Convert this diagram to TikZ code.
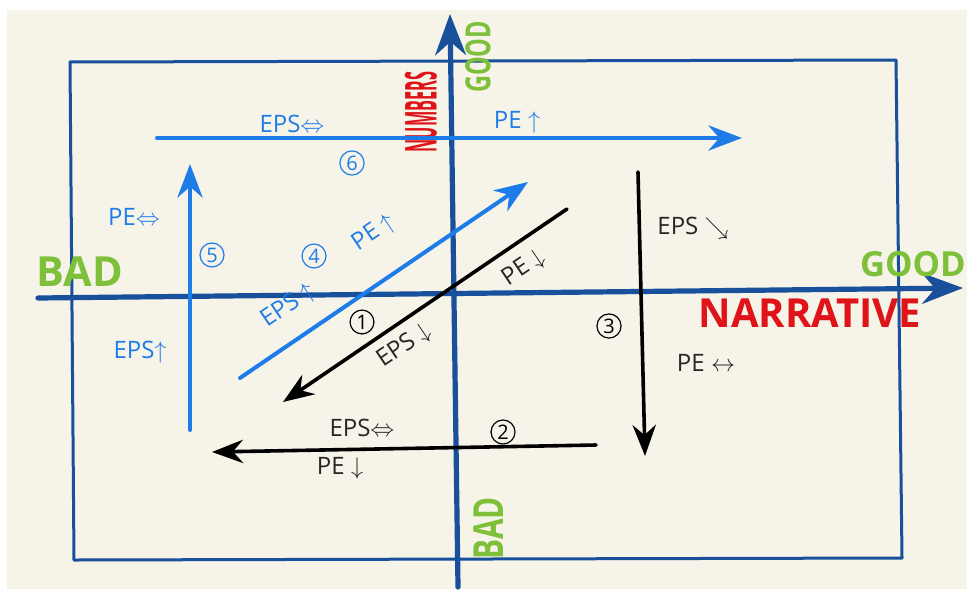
\documentclass[tikz,border=0pt]{standalone}
\usepackage{fontspec}
\setmainfont{Open Sans}
\usetikzlibrary{arrows.meta}
\definecolor{paper}{RGB}{246,243,233}
\definecolor{axisblue}{RGB}{24,80,156}
\definecolor{penblue}{RGB}{30,124,232}
\definecolor{markgreen}{RGB}{126,192,58}
\definecolor{markred}{RGB}{222,20,24}

\begin{document}
\begin{tikzpicture}[x=0.5pt,y=-0.5pt,line cap=round,line join=round,>={Stealth[scale=1.4]},
  every node/.style={inner sep=1pt},
  frame/.style={draw=axisblue,line width=1.5pt},
  axis/.style={->,draw=axisblue,line width=2.6pt},
  bluearr/.style={->,draw=penblue,line width=2pt},
  blackarr/.style={->,draw=black,line width=1.8pt},
  bluelbl/.style={text=penblue,font=\large},
  blacklbl/.style={text=black!85,font=\large},
  numc/.style={circle,draw,line width=0.6pt,inner sep=1pt,font=\normalsize},
  markg/.style={text=markgreen,font=\bfseries\LARGE},
  markr/.style={text=markred,font=\bfseries\fontsize{20}{20}\selectfont}]
  \useasboundingbox (0,0) rectangle (967,589);
  \fill[paper] (7,10) rectangle (967,589);
  % frame and axes
  \draw[frame] (70,62) -- (896,60) -- (902,558) -- (74,560) -- cycle;
  \coordinate (vb) at (458,587);
  \coordinate (vt) at (450,14);
  \coordinate (hl) at (38,298);
  \coordinate (hr) at (963,288);
  \draw[axis] (vb) -- (vt);
  \draw[axis] (hl) -- (hr);
  \node[markr,rotate=90,font=\bfseries\fontsize{22}{22}\selectfont] (numbers) at (421,112) {\scalebox{0.37}[1]{NUMBERS}};
  \node[markg,rotate=90] (goodv) at (478,57) {\scalebox{0.68}[1]{GOOD}};
  \node[markg,rotate=90,font=\bfseries\huge] (badv) at (489,528) {\scalebox{0.72}[1]{BAD}};
  \node[markg,font=\bfseries\huge] (badh) at (80,272) {BAD};
  \node[markg] (goodh) at (913,264) {GOOD};
  \node[markr] (narr) at (810,313) {NARRATIVE};
  % blue moves
  \coordinate (s6) at (157,138);
  \coordinate (e6) at (742,138);
  \draw[bluearr] (s6) -- (e6);
  \node[bluelbl] (eps6) at (292,124) {EPS$\Leftrightarrow$};
  \node[bluelbl] (pe6) at (517,122) {PE $\uparrow$};
  \node[numc,draw=penblue,text=penblue] (n6) at (352,163) {6};
  \coordinate (s5) at (190,430);
  \coordinate (e5) at (190,164);
  \draw[bluearr] (s5) -- (e5);
  \node[bluelbl] (pe5) at (134,217) {PE$\Leftrightarrow$};
  \node[numc,draw=penblue,text=penblue] (n5) at (212,255) {5};
  \node[bluelbl] (eps5) at (140,352) {EPS$\uparrow$};
  \coordinate (s4) at (240,378);
  \coordinate (e4) at (528,182);
  \draw[bluearr] (s4) -- (e4);
  \node[bluelbl,rotate=34] (pe4) at (374,233) {PE $\uparrow$};
  \node[numc,draw=penblue,text=penblue] (n4) at (314,256) {4};
  \node[bluelbl,rotate=34] (eps4) at (288,306) {EPS $\uparrow$};
  % black moves
  \coordinate (s1) at (567,209);
  \coordinate (e1) at (283,402);
  \draw[blackarr] (s1) -- (e1);
  \node[blacklbl,rotate=34] (pe1) at (524,268) {PE $\downarrow$};
  \node[numc] (n1) at (362,322) {1};
  \node[blacklbl,rotate=34] (eps1) at (404,346) {EPS $\downarrow$};
  \coordinate (s2) at (596,445);
  \coordinate (e2) at (212,452);
  \draw[blackarr] (s2) -- (e2);
  \node[blacklbl] (eps2) at (362,428) {EPS$\Leftrightarrow$};
  \node[blacklbl] (pe2) at (340,468) {PE $\downarrow$};
  \node[numc] (n2) at (503,432) {2};
  \coordinate (s3) at (638,172);
  \coordinate (e3) at (645,456);
  \draw[blackarr] (s3) -- (e3);
  \node[blacklbl] (eps3) at (693,228) {EPS $\searrow$};
  \node[numc] (n3) at (609,326) {3};
  \node[blacklbl] (pe3) at (706,363) {PE $\leftrightarrow$};
\end{tikzpicture}
\end{document}
